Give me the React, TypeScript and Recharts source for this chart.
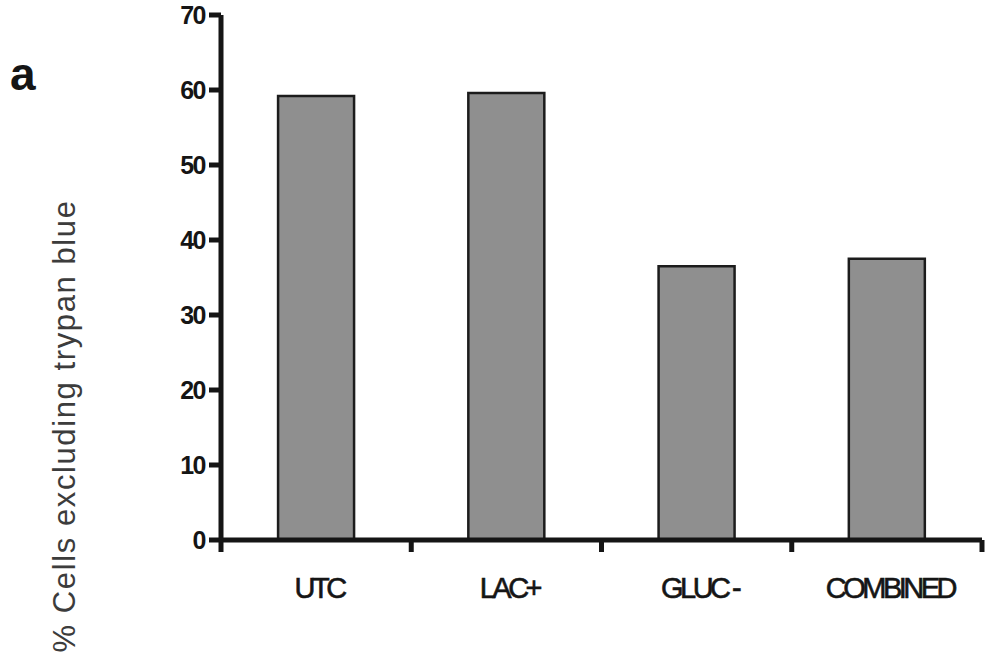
import React from "react"
import { Bar, BarChart, XAxis, YAxis } from "recharts"

const categories = ["UTC", "LAC+", "GLUC -", "COMBINED"]
const viability = [59.2, 59.6, 36.5, 37.5]
const yTicks = [0, 10, 20, 30, 40, 50, 60, 70]

const data = categories.map((name, i) => ({ name, value: viability[i] }))

const W = 989
const H = 665
const xAxisHeight = 30
const margin = { top: 15, right: 7, bottom: 125 - xAxisHeight, left: 0 }
const yAxisWidth = 221
const band = (W - margin.left - margin.right - yAxisWidth) / categories.length

const font = "'Liberation Sans', Arial, Helvetica, sans-serif"
const ink = "#151515"

const CategoryTick = (props: any) => {
  const { x, y, payload, index } = props
  const left = x - band / 2
  const right = x + band / 2
  return (
    <g>
      <line x1={left} y1={y} x2={left} y2={y + 12} stroke={ink} strokeWidth={5} />
      {index === categories.length - 1 && (
        <line x1={right} y1={y} x2={right} y2={y + 12} stroke={ink} strokeWidth={5} />
      )}
      <text
        x={x + 3}
        y={y + 58}
        textAnchor="middle"
        fontFamily={font}
        fontSize={29}
        letterSpacing={-3.5}
        stroke={ink}
        strokeWidth={0.6}
        fill={ink}
      >
        {payload.value}
      </text>
    </g>
  )
}

const YTitle = () => (
  <text
    x={75}
    y={426}
    transform="rotate(-90, 75, 426)"
    textAnchor="middle"
    fontFamily={font}
    fontSize={31}
    letterSpacing={1.6}
    fill="#3c3c3c"
  >
    % Cells excluding trypan blue
  </text>
)

export default function App() {
  return (
    <div style={{ position: "absolute", left: 0, top: 0, width: W, height: H, background: "#fff" }}>
      <BarChart width={W} height={H} data={data} margin={margin} barCategoryGap="30%">
        <XAxis
          dataKey="name"
          type="category"
          height={xAxisHeight}
          axisLine={{ stroke: ink, strokeWidth: 5 }}
          tickLine={false}
          tickSize={0}
          tickMargin={0}
          tick={<CategoryTick />}
          interval={0}
        />
        <YAxis
          type="number"
          domain={[0, 70]}
          ticks={yTicks}
          width={yAxisWidth}
          axisLine={{ stroke: ink, strokeWidth: 5 }}
          tickLine={{ stroke: ink, strokeWidth: 5 }}
          tickSize={12}
          tickMargin={4}
          tick={{ fontFamily: font, fontSize: 25, fontWeight: "bold", fill: ink, letterSpacing: -1.5 }}
          label={<YTitle />}
        />
        <Bar dataKey="value" fill="#8f8f8f" stroke="#1c1c1c" strokeWidth={2.5} isAnimationActive={false} />
      </BarChart>
      <span
        style={{
          position: "absolute",
          left: 10,
          top: 48,
          fontFamily: font,
          fontWeight: "bold",
          fontSize: 46,
          lineHeight: "52px",
          color: ink,
        }}
      >
        a
      </span>
    </div>
  )
}
